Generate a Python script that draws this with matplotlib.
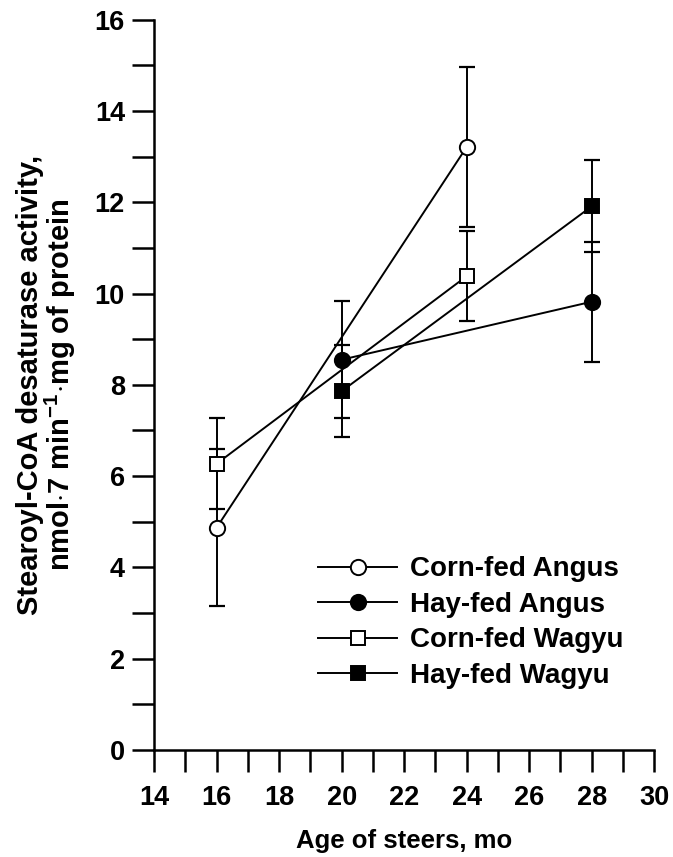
import matplotlib as mpl
import matplotlib.pyplot as plt
from matplotlib.ticker import MultipleLocator

mpl.rcParams.update({
    "font.family": "Liberation Sans",
    "font.weight": "bold",
    "mathtext.fontset": "custom",
    "mathtext.bf": "Liberation Sans:bold",
    "mathtext.rm": "Liberation Sans:bold",
    "mathtext.default": "bf",
})

# data
corn_angus_x = [16, 24]
corn_angus_y = [4.87, 13.21]
corn_angus_err = [1.72, 1.75]

hay_angus_x = [20, 28]
hay_angus_y = [8.55, 9.82]
hay_angus_err = [1.28, 1.31]

corn_wagyu_x = [16, 24]
corn_wagyu_y = [6.27, 10.38]
corn_wagyu_err = [1.0, 0.98]

hay_wagyu_x = [20, 28]
hay_wagyu_y = [7.86, 11.91]
hay_wagyu_err = [1.01, 1.01]

labels = ["Corn-fed Angus", "Hay-fed Angus", "Corn-fed Wagyu", "Hay-fed Wagyu"]

fig = plt.figure(figsize=(6.73, 8.57), dpi=100)
ax = fig.add_axes([0.229, 0.125, 0.743, 0.852])

series = [
    (corn_angus_x, corn_angus_y, corn_angus_err, "o", "white", 11),
    (hay_angus_x, hay_angus_y, hay_angus_err, "o", "black", 11),
    (corn_wagyu_x, corn_wagyu_y, corn_wagyu_err, "s", "white", 10),
    (hay_wagyu_x, hay_wagyu_y, hay_wagyu_err, "s", "black", 10),
]
handles = []
for (x, y, e, m, fc, ms), lab in zip(series, labels):
    ax.errorbar(x, y, yerr=e, fmt="none", ecolor="black", elinewidth=1.4,
                capsize=6, capthick=1.6, zorder=2)
    h, = ax.plot(x, y, color="black", lw=1.4, marker=m, markersize=ms,
                 markerfacecolor=fc, markeredgecolor="black",
                 markeredgewidth=1.4, label=lab, zorder=3)
    handles.append(h)

ax.set_xlim(14, 30)
ax.set_ylim(0, 16)
ax.xaxis.set_major_locator(MultipleLocator(2))
ax.xaxis.set_minor_locator(MultipleLocator(1))
ax.yaxis.set_major_locator(MultipleLocator(2))
ax.yaxis.set_minor_locator(MultipleLocator(1))
ax.tick_params(which="both", direction="out", length=16, width=1.8,
               labelsize=19.5)
ax.tick_params(axis="x", which="both", pad=9)
ax.tick_params(axis="y", which="both", pad=5)
for s in ["top", "right"]:
    ax.spines[s].set_visible(False)
for s in ["left", "bottom"]:
    ax.spines[s].set_linewidth(1.8)

ax.set_xlabel("Age of steers, mo", fontsize=18.5, fontweight="bold", labelpad=13)
ax.set_ylabel("Stearoyl-CoA desaturase activity,\n"
              r"nmol$\cdot$7 min$^{-1}$$\cdot$mg of protein",
              fontsize=21, fontweight="bold", labelpad=12, linespacing=0.95)

ax.legend(handles=handles, loc="upper left", bbox_to_anchor=(0.328, 0.265),
          frameon=False, fontsize=20, handlelength=2.85, labelspacing=0.34,
          handletextpad=0.45, borderpad=0, borderaxespad=0)

fig.savefig("out.png", dpi=100)
